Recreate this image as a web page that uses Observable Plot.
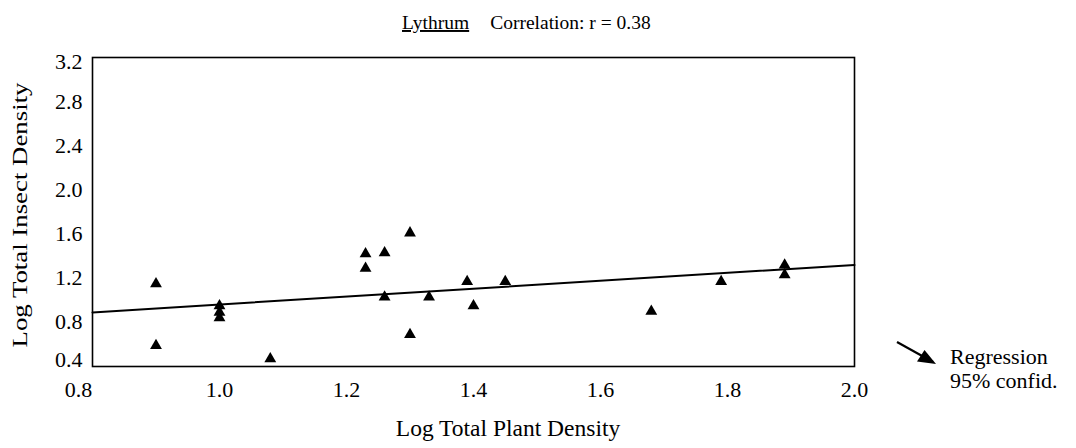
<!DOCTYPE html>
<html>
<head>
<meta charset="utf-8">
<script src="https://cdn.jsdelivr.net/npm/d3@7"></script>
<script src="https://cdn.jsdelivr.net/npm/@observablehq/plot@0.6"></script>
<style>
  html, body { margin: 0; padding: 0; background: #fff; }
  #wrap { position: relative; width: 1076px; height: 448px; font-family: "Liberation Serif", "Times New Roman", serif; }
  #wrap svg.overlay { position: absolute; left: 0; top: 0; pointer-events: none; }
</style>
</head>
<body>
<div id="wrap"></div>
<script>
// ---- data ----
const plantDensity  = [0.90, 0.90, 1.00, 1.00, 1.00, 1.08, 1.23, 1.23, 1.26, 1.30, 1.26, 1.30, 1.33, 1.39, 1.40, 1.45, 1.68, 1.79, 1.89, 1.89];
const insectDensity = [1.15, 0.59, 0.95, 0.89, 0.84, 0.47, 1.42, 1.29, 1.43, 1.61, 1.03, 0.69, 1.03, 1.17, 0.95, 1.17, 0.90, 1.17, 1.32, 1.23];
const regressionX = [0.8, 2.0];
const regressionY = [0.89, 1.32];
const xTicks = [0.8, 1.0, 1.2, 1.4, 1.6, 1.8, 2.0];
const yTicks = [0.4, 0.8, 1.2, 1.6, 2.0, 2.4, 2.8, 3.2];
const titleSpecies = "Lythrum";
const titleStat = "Correlation: r = 0.38";
const xTitle = "Log Total Plant Density";
const yTitle = "Log Total Insect Density";
const legendLines = ["Regression", "95% confid."];

const points = plantDensity.map((x, i) => ({x, y: insectDensity[i]}));
const regression = regressionX.map((x, i) => ({x, y: regressionY[i]}));

const FONT = "Liberation Serif, Times New Roman, serif";
const FS = 22;

const chart = Plot.plot({
  width: 1076,
  height: 448,
  marginLeft: 92,
  marginRight: 222,
  marginTop: 57,
  marginBottom: 82,
  style: {fontFamily: FONT, fontSize: FS + "px", color: "black", background: "white"},
  x: {domain: [0.8, 2.0]},
  y: {domain: [0.4, 3.2]},
  marks: [
    Plot.axisX(xTicks.slice(1), {tickSize: 0, tickPadding: 15, tickFormat: d3.format(".1f"), fontSize: FS, label: null}),
    Plot.axisX(xTicks.slice(0, 1), {tickSize: 0, tickPadding: 15, dx: -14, tickFormat: d3.format(".1f"), fontSize: FS, label: null}),
    Plot.axisY(yTicks.slice(1, -1), {tickSize: 0, tickPadding: 10, tickFormat: d3.format(".1f"), fontSize: FS, label: null}),
    Plot.axisY(yTicks.slice(-1), {tickSize: 0, tickPadding: 10, dy: 4, tickFormat: d3.format(".1f"), fontSize: FS, label: null}),
    Plot.axisY(yTicks.slice(0, 1), {tickSize: 0, tickPadding: 10, dy: -7, tickFormat: d3.format(".1f"), fontSize: FS, label: null}),
    Plot.line(regression, {x: "x", y: "y", stroke: "black", strokeWidth: 2}),
    Plot.dot(points, {x: "x", y: "y", symbol: "triangle", r: 4.4, fill: "black", stroke: "none"}),
    Plot.frame({stroke: "black", strokeWidth: 1.6})
  ]
});

const wrap = document.getElementById("wrap");
wrap.appendChild(chart);

// ---- annotations: title, axis titles, legend ----
const ov = d3.select(wrap).append("svg")
  .attr("class", "overlay")
  .attr("width", 1076).attr("height", 448)
  .style("font-family", FONT);

const t = ov.append("text").attr("x", 402).attr("y", 29).attr("fill", "black").style("font-size", "19.5px");
t.append("tspan").attr("text-decoration", "underline").text(titleSpecies);
t.append("tspan").attr("dx", 21).text(titleStat);

ov.append("text")
  .attr("transform", "translate(508,436)")
  .attr("text-anchor", "middle")
  .style("font-size", "23.5px")
  .text(xTitle);

ov.append("text")
  .attr("transform", "translate(27,215) rotate(-90)")
  .attr("text-anchor", "middle")
  .attr("textLength", 265)
  .attr("lengthAdjust", "spacingAndGlyphs")
  .style("font-size", "22px")
  .text(yTitle);

// legend symbol: regression line with triangle head
ov.append("line")
  .attr("x1", 897).attr("y1", 342).attr("x2", 933).attr("y2", 362)
  .attr("stroke", "black").attr("stroke-width", 2.2);
ov.append("path")
  .attr("d", "M936,364 L917,361.5 L924.5,350 Z")
  .attr("fill", "black");

legendLines.forEach((s, i) => {
  ov.append("text").attr("x", 950).attr("y", 364 + i * 24).style("font-size", FS + "px").text(s);
});
</script>
</body>
</html>
